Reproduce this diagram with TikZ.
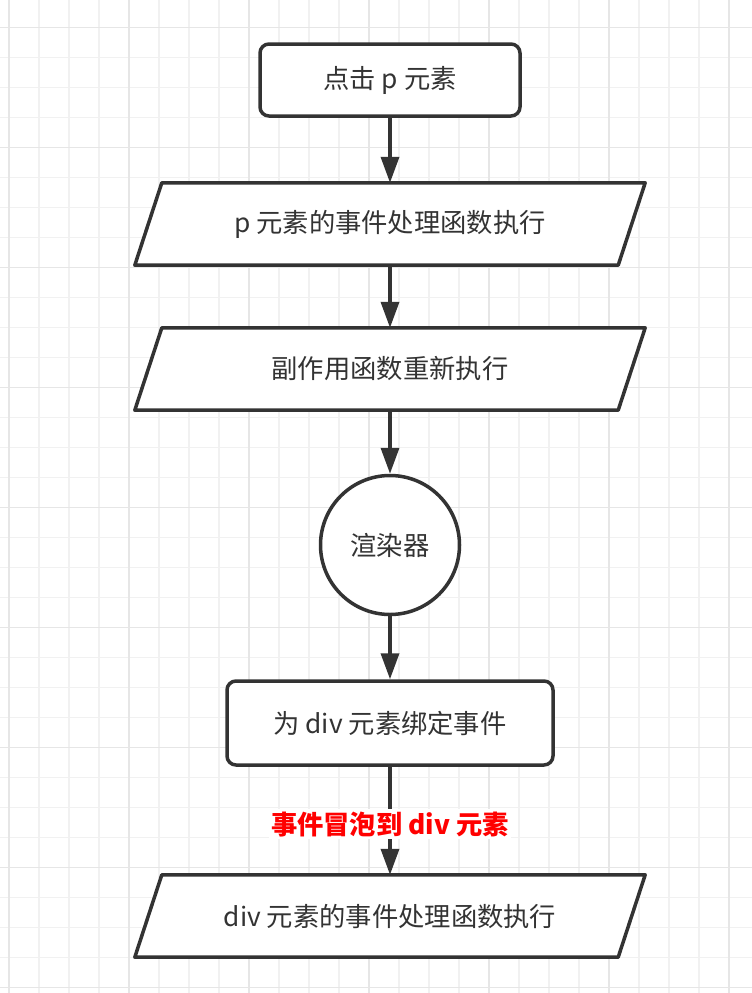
\documentclass[tikz,border=0pt]{standalone}
\usepackage{fontspec}
\newfontfamily\cjk{Noto Sans CJK SC}
\usetikzlibrary{arrows.meta,calc}
\definecolor{ink}{HTML}{333333}
\definecolor{gridminor}{HTML}{F1F1F1}
\definecolor{gridmajor}{HTML}{E6E6E6}
\begin{document}
\begin{tikzpicture}[x=1pt,y=-1pt,
  every node/.style={font=\cjk\fontsize{26.3}{31}\selectfont, text=ink},
  stepbox/.style={draw=ink, line width=3.5pt, rounded corners=9pt, fill=white},
  iobox/.style={minimum width=510pt, minimum height=82pt, inner sep=0pt},
  iopath/.style={draw=ink, line width=3.5pt, fill=white, line join=round},
  renderer/.style={circle, draw=ink, line width=3.5pt, fill=white, minimum size=139pt, inner sep=0pt},
  flow/.style={draw=ink, line width=3.5pt, -{Triangle[length=26pt,width=18pt]}},
  note/.style={fill=white, text=red, font=\cjk\bfseries\fontsize{26.3}{31}\selectfont, inner sep=2pt}]
  \useasboundingbox (0,0) rectangle (752,993);
  \fill[white] (0,0) rectangle (752,993);
  % background grid
  \foreach \gx in {9,39,...,752} \draw[gridminor, line width=1.5pt] (\gx,0) -- (\gx,993);
  \foreach \gy in {27.7,57.7,...,993} \draw[gridminor, line width=1.5pt] (0,\gy) -- (752,\gy);
  \foreach \gx in {9,129,...,752} \draw[gridmajor, line width=1.5pt] (\gx,0) -- (\gx,993);
  \foreach \gy in {27.7,147.7,...,993} \draw[gridmajor, line width=1.5pt] (0,\gy) -- (752,\gy);

  % flow nodes
  \node[stepbox, minimum width=260pt, minimum height=72pt] (click) at (390,80) {点击 p 元素};

  \node[iobox] (phandler) at (390,224) {};
  \path[iopath] ($(phandler.north west)+(27,0)$) -- (phandler.north east)
     -- ($(phandler.south east)-(27,0)$) -- (phandler.south west) -- cycle;
  \node at (phandler) {p 元素的事件处理函数执行};

  \node[iobox] (effect) at (390,369) {};
  \path[iopath] ($(effect.north west)+(27,0)$) -- (effect.north east)
     -- ($(effect.south east)-(27,0)$) -- (effect.south west) -- cycle;
  \node at (effect) {副作用函数重新执行};

  \node[renderer] (render) at (390,545) {渲染器};

  \node[stepbox, minimum width=326pt, minimum height=84pt] (bind) at (390,723) {为 div 元素绑定事件};

  \node[iobox] (divhandler) at (390,916) {};
  \path[iopath] ($(divhandler.north west)+(27,0)$) -- (divhandler.north east)
     -- ($(divhandler.south east)-(27,0)$) -- (divhandler.south west) -- cycle;
  \node at (divhandler) {div 元素的事件处理函数执行};

  % connectors
  \draw[flow] (click.south) -- (phandler.north);
  \draw[flow] (phandler.south) -- (effect.north);
  \draw[flow] (effect.south) -- (render.north);
  \draw[flow] (render.south) -- (bind.north);
  \draw[flow] (bind.south) -- (divhandler.north)
     node[note, pos=0.53] {事件冒泡到 div 元素};
\end{tikzpicture}
\end{document}
